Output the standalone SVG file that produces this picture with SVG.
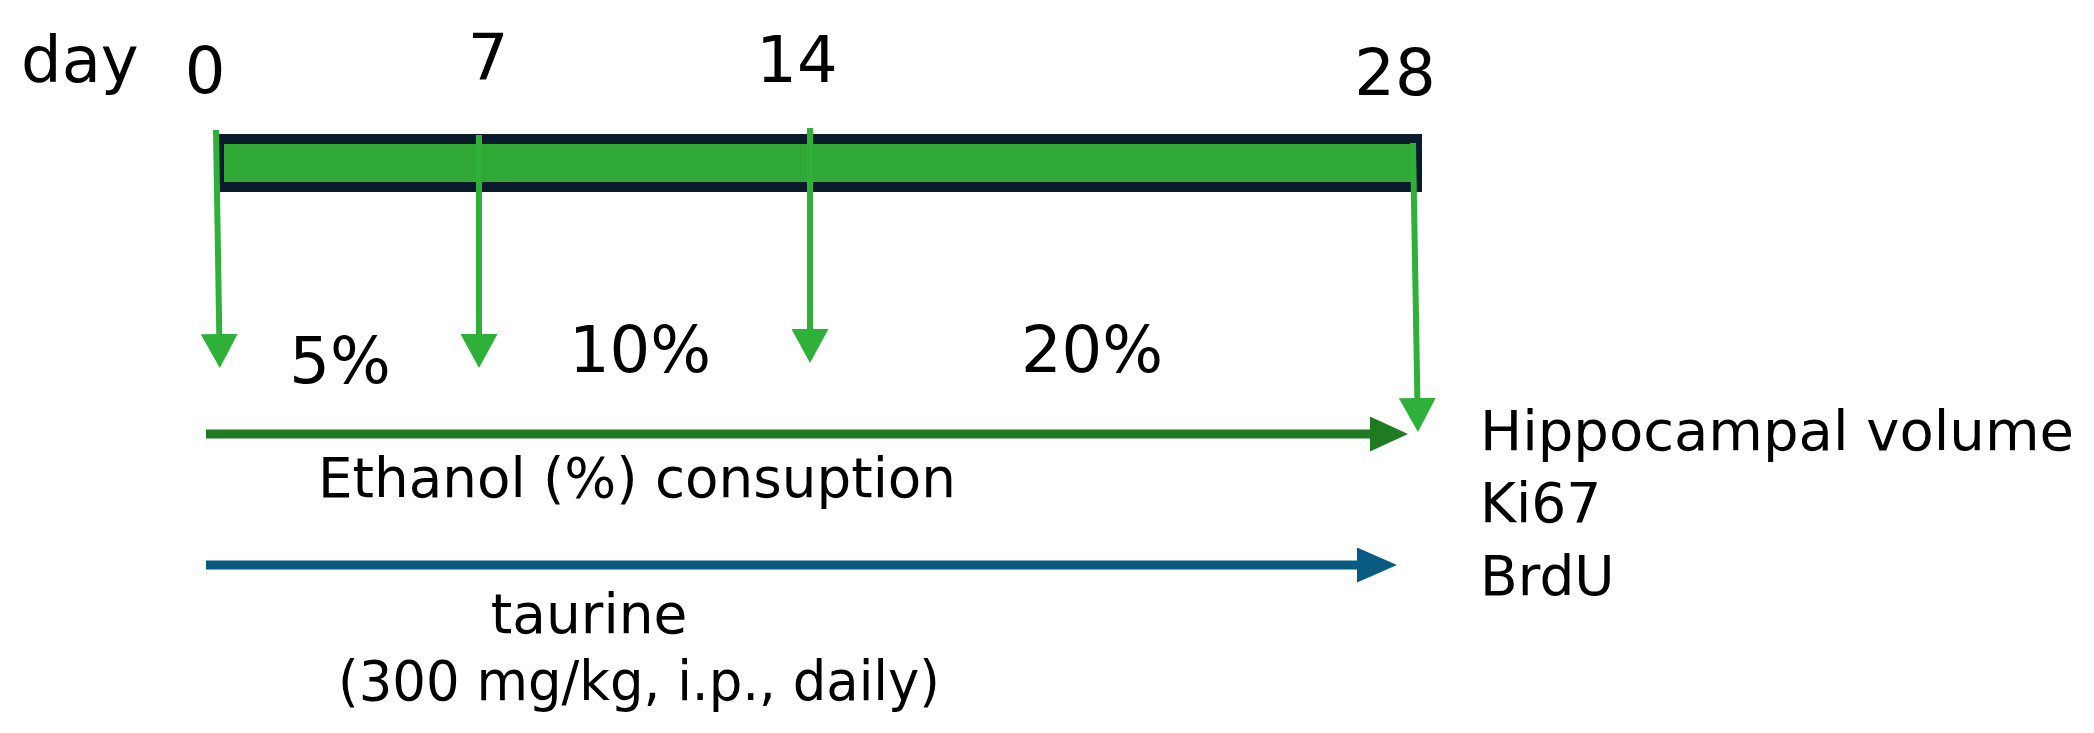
<svg xmlns="http://www.w3.org/2000/svg" width="2094" height="733" viewBox="0 0 2094 733">
  <style>
    .lbl { font-family: "DejaVu Sans", "Liberation Sans", sans-serif; fill: #000; }
    .top { font-size: 64px; }
    .low { font-size: 55px; }
    .tick { stroke: #2fb038; stroke-width: 6; fill: none; }
  </style>
  <defs>
    <marker id="headV" markerUnits="userSpaceOnUse" viewBox="0 0 34 37" refX="14" refY="18.5" markerWidth="34" markerHeight="37" orient="auto">
      <path d="M0,0 L34,18.5 L0,37 z" fill="#2fb038"/>
    </marker>
    <marker id="headG" markerUnits="userSpaceOnUse" viewBox="0 0 38 35" refX="18" refY="17.5" markerWidth="38" markerHeight="35" orient="auto">
      <path d="M0,0 L38,17.5 L0,35 z" fill="#1f7b22"/>
    </marker>
    <marker id="headB" markerUnits="userSpaceOnUse" viewBox="0 0 40 35" refX="20" refY="17.5" markerWidth="40" markerHeight="35" orient="auto">
      <path d="M0,0 L40,17.5 L0,35 z" fill="#075b80"/>
    </marker>
  </defs>
  <rect width="2094" height="733" fill="#ffffff"/>

  <g id="timeline-bar">
    <rect x="219" y="139" width="1198" height="48" fill="#30a836" stroke="#0b1b2c" stroke-width="10"/>
  </g>

  <g id="day-labels">
    <text class="lbl top" x="21" y="82">day</text>
    <text class="lbl top" x="205" y="93" text-anchor="middle">0</text>
    <text class="lbl top" x="488" y="80" text-anchor="middle">7</text>
    <text class="lbl top" x="797" y="82" text-anchor="middle">14</text>
    <text class="lbl top" x="1395" y="95" text-anchor="middle">28</text>
  </g>

  <g id="percent-labels">
    <text class="lbl top" x="340" y="383" text-anchor="middle">5%</text>
    <text class="lbl top" x="640" y="372" text-anchor="middle">10%</text>
    <text class="lbl top" x="1092" y="372" text-anchor="middle">20%</text>
  </g>

  <g id="connectors">
    <path class="tick" d="M216,130 L219.5,348" marker-end="url(#headV)"/>
    <path class="tick" d="M479,135 L479,348" marker-end="url(#headV)"/>
    <path class="tick" d="M810,128 L810,343" marker-end="url(#headV)"/>
    <path class="tick" d="M1413,143 L1417.6,412" marker-end="url(#headV)"/>
    <path d="M206,434 L1388,434" stroke="#1f7b22" stroke-width="9" fill="none" marker-end="url(#headG)"/>
    <path d="M206,565 L1377,565" stroke="#075b80" stroke-width="9" fill="none" marker-end="url(#headB)"/>
  </g>

  <g id="ethanol-label">
    <text class="lbl low" x="637" y="497" text-anchor="middle" textLength="638" lengthAdjust="spacingAndGlyphs">Ethanol (%) consuption</text>
  </g>

  <g id="taurine-label">
    <text class="lbl low" x="589" y="633" text-anchor="middle">taurine</text>
    <text class="lbl low" x="639" y="700" text-anchor="middle" textLength="602" lengthAdjust="spacingAndGlyphs">(300 mg/kg, i.p., daily)</text>
  </g>

  <g id="outcomes">
    <text class="lbl low" x="1480" y="450" textLength="594" lengthAdjust="spacingAndGlyphs">Hippocampal volume</text>
    <text class="lbl low" x="1480" y="522">Ki67</text>
    <text class="lbl low" x="1480" y="595">BrdU</text>
  </g>
</svg>
